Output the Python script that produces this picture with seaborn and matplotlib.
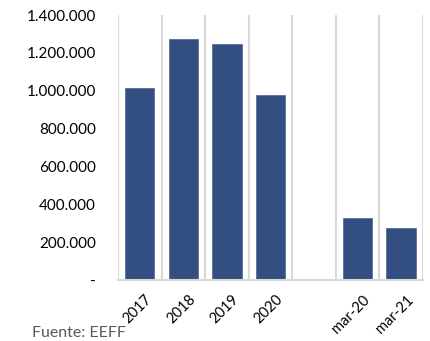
import matplotlib
matplotlib.use("Agg")
import matplotlib.pyplot as plt
import matplotlib.transforms as mtrans
import seaborn as sns
import pandas as pd
import numpy as np

categories = ["2017", "2018", "2019", "2020", "mar-20", "mar-21"]
order = ["2017", "2018", "2019", "2020", " ", "mar-20", "mar-21"]
values = [1015000, 1273000, 1247000, 978000, 328000, 276000]
yticks = [0, 200000, 400000, 600000, 800000, 1000000, 1200000, 1400000]
source = "Fuente: EEFF"

sns.set_theme(style="white")
plt.rcParams['font.family'] = ['Lato', 'DejaVu Sans']

df = pd.DataFrame({"cat": categories, "val": values})

fig = plt.figure(figsize=(4.31, 3.41), dpi=100)
ax = fig.add_axes([0.274, 0.179, 0.707, 0.777])
sns.barplot(data=df, x="cat", y="val", order=order, color="#334E80",
            width=0.67, edgecolor="#5A6F99", linewidth=0.6, ax=ax, saturation=1)

ax.set_ylim(0, 1400000)
ax.set_xlim(-0.5, len(order) - 0.5)
ax.set_yticks(yticks)
def fmt(v):
    return "-" if v == 0 else f"{int(v):,}".replace(",", ".")
ax.set_yticklabels([fmt(v) for v in yticks], fontsize=11, color="#000000")
ax.set_xticks(range(len(order)))
ax.set_xticklabels([c if c.strip() else "" for c in order], rotation=45,
                   ha="right", rotation_mode="anchor", fontsize=10.5, color="#000000")
ax.tick_params(axis="y", length=0, pad=16)
ax.tick_params(axis="x", length=0, pad=9)
offset = mtrans.ScaledTranslation(0.05, 0, fig.dpi_scale_trans)
for lbl in ax.get_xticklabels():
    lbl.set_transform(lbl.get_transform() + offset)

ax.set_xticks(np.arange(-0.5, len(order), 1.0), minor=True)
ax.tick_params(axis="x", which="minor", length=0)
ax.grid(False)
ax.grid(True, which="minor", axis="x", color="#D9D9D9", linewidth=1.5)
ax.set_axisbelow(True)
for s in ["top", "right", "left"]:
    ax.spines[s].set_visible(False)
ax.spines["bottom"].set_color("#D9D9D9")
ax.spines["bottom"].set_linewidth(1.5)
ax.set_xlabel("")
ax.set_ylabel("")

fig.text(0.074, 0.024, source, fontsize=11.5, color="#595959", ha="left", va="center")

fig.savefig("out.png", dpi=100)
